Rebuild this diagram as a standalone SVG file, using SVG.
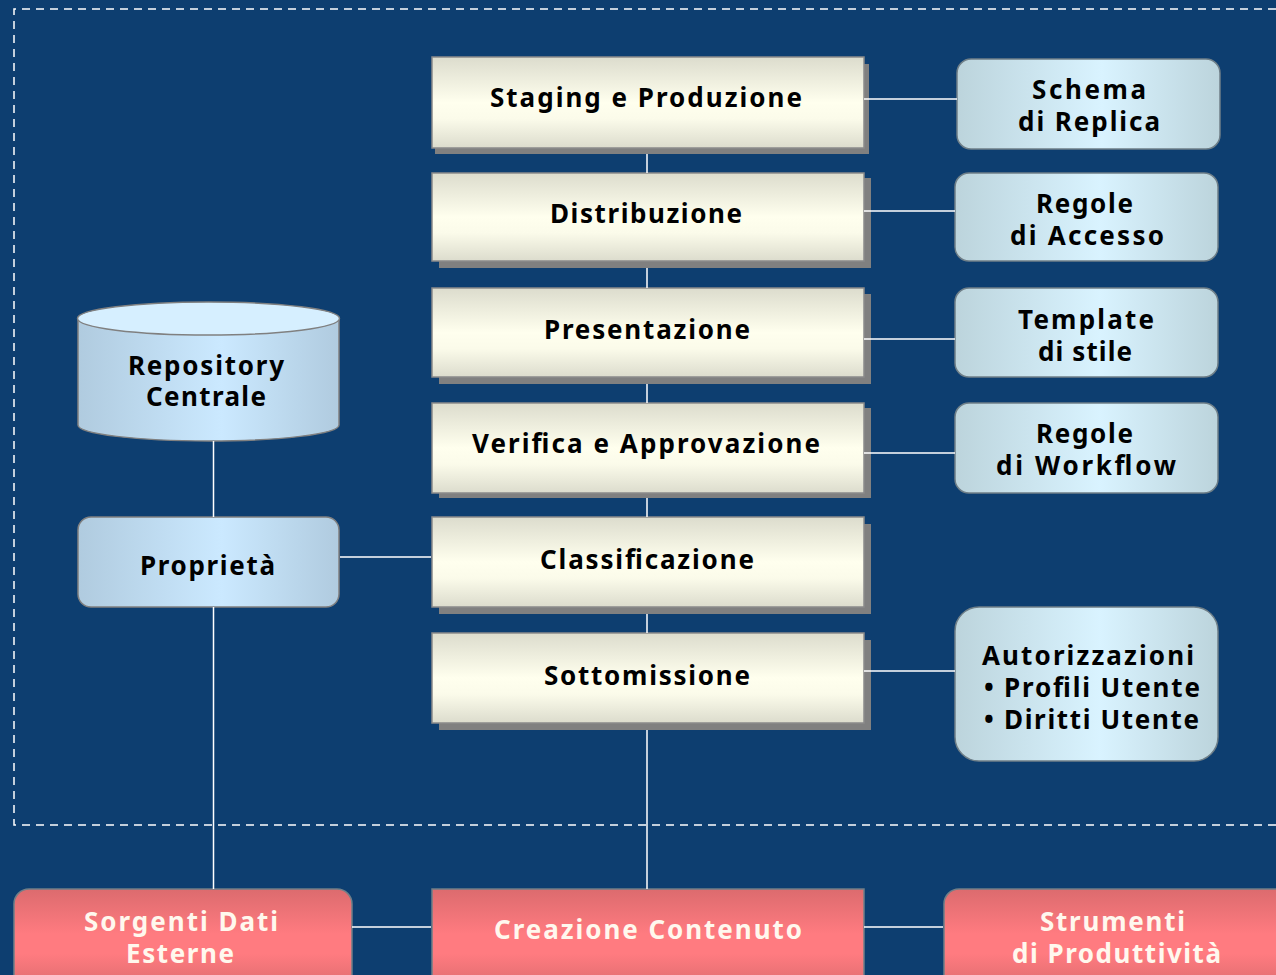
<svg xmlns="http://www.w3.org/2000/svg" width="1276" height="975" viewBox="0 0 1276 975">
<defs>
<linearGradient id="cream" x1="0" y1="0" x2="0" y2="1"><stop offset="0" stop-color="#dcdccd"/><stop offset="0.5" stop-color="#ffffee"/><stop offset="0.68" stop-color="#fbfbea"/><stop offset="1" stop-color="#dcdccd"/></linearGradient>
<linearGradient id="blue" x1="0" y1="0" x2="1" y2="0"><stop offset="0" stop-color="#b0cbdf"/><stop offset="0.55" stop-color="#cbe9ff"/><stop offset="1" stop-color="#b0cbdf"/></linearGradient>
<linearGradient id="ice" x1="0" y1="0" x2="1" y2="0"><stop offset="0" stop-color="#bcd4dc"/><stop offset="0.55" stop-color="#d9f3ff"/><stop offset="1" stop-color="#bcd4dc"/></linearGradient>
<linearGradient id="red" x1="0" y1="0" x2="0" y2="1"><stop offset="0" stop-color="#dc6b6e"/><stop offset="0.45" stop-color="#ff7b80"/><stop offset="0.65" stop-color="#ff7b80"/><stop offset="1" stop-color="#dc6b6e"/></linearGradient>
</defs>
<style>
text{font-family:"Noto Sans","DejaVu Sans",sans-serif;font-weight:700;font-size:26px;fill:#000;}
.w{fill:#fff8ee;}
.s{fill:#808080;}
.c{fill:url(#cream);stroke:#8a8a8a;stroke-width:1.500;}
.b{fill:url(#blue);stroke:#808080;stroke-width:1.500;}
.i{fill:url(#ice);stroke:#6f7f88;stroke-width:1.500;}
.r{fill:url(#red);stroke:#6f7f88;stroke-width:1.500;}
.l{stroke:#fff;stroke-width:1.500;fill:none;}
</style>
<rect width="1276" height="975" fill="#0d3e70"/>
<path d="M1276 9H14V825H1276" fill="none" stroke="#fff" stroke-width="1.500" stroke-dasharray="8 6"/>
<g id="staging"><rect class="s" x="435" y="64" width="434" height="90"/><rect class="c" x="432" y="57" width="432" height="91"/><text x="490" y="107" textLength="312">Staging e Produzione</text></g>
<g id="distribuzione"><rect class="s" x="439" y="178" width="432" height="90"/><rect class="c" x="432" y="173" width="432" height="88"/><text x="550" y="223" textLength="192">Distribuzione</text></g>
<g id="presentazione"><rect class="s" x="439" y="294" width="432" height="90"/><rect class="c" x="432" y="288" width="432" height="89"/><text x="544" y="339" textLength="206">Presentazione</text></g>
<g id="verifica"><rect class="s" x="439" y="408" width="432" height="90"/><rect class="c" x="432" y="403" width="432" height="90"/><text x="472" y="453" textLength="348">Verifica e Approvazione</text></g>
<g id="classificazione"><rect class="s" x="439" y="524" width="432" height="90"/><rect class="c" x="432" y="517" width="432" height="90"/><text x="540" y="569" textLength="214">Classificazione</text></g>
<g id="sottomissione"><rect class="s" x="439" y="640" width="432" height="90"/><rect class="c" x="432" y="633" width="432" height="90"/><text x="544" y="685" textLength="206">Sottomissione</text></g>
<g id="schema"><rect class="i" x="957" y="59" width="263" height="90" rx="14"/><text x="1032" y="99" textLength="114">Schema</text><text x="1018" y="131" textLength="142">di Replica</text></g>
<g id="accesso"><rect class="i" x="955" y="173" width="263" height="88" rx="14"/><text x="1036" y="213" textLength="97">Regole</text><text x="1010" y="245" textLength="154">di Accesso</text></g>
<g id="template"><rect class="i" x="955" y="288" width="263" height="89" rx="14"/><text x="1018" y="329" textLength="136">Template</text><text x="1038" y="361" textLength="94">di stile</text></g>
<g id="workflow"><rect class="i" x="955" y="403" width="263" height="90" rx="14"/><text x="1036" y="443" textLength="97">Regole</text><text x="996" y="475" textLength="180">di Workflow</text></g>
<g id="autorizzazioni"><rect class="i" x="955" y="607" width="263" height="154" rx="24"/><text x="982" y="665" textLength="212">Autorizzazioni</text><text x="984" y="697">•<tspan x="1004" textLength="196">Profili Utente</tspan></text><text x="984" y="729">•<tspan x="1004" textLength="195">Diritti Utente</tspan></text></g>
<g id="repository"><path class="b" d="M78 318V425C78 434 138 441 208.500 441S339 434 339 425V318"/><ellipse cx="208.500" cy="318.500" rx="131" ry="16.500" fill="#d6efff" stroke="#808080" stroke-width="1.500"/><text x="128" y="375" textLength="156">Repository</text><text x="146" y="406" textLength="120">Centrale</text></g>
<g id="proprieta"><rect class="b" x="78" y="517" width="261" height="90" rx="13"/><text x="140" y="575" textLength="135">Proprietà</text></g>
<g id="sorgenti"><rect class="r" x="14" y="889" width="338" height="100" rx="15"/><text class="w" x="84" y="931" textLength="194">Sorgenti Dati</text><text class="w" x="126" y="963" textLength="108">Esterne</text></g>
<g id="creazione"><rect class="r" x="432" y="889" width="432" height="100"/><text class="w" x="494" y="939" textLength="308">Creazione Contenuto</text></g>
<g id="strumenti"><rect class="r" x="944" y="889" width="350" height="100" rx="15"/><text class="w" x="1040" y="931" textLength="145">Strumenti</text><text class="w" x="1012" y="963" textLength="209">di Produttività</text></g>
<g id="connectors">
<path class="l" d="M213.500 441V517M213.500 607V889M647 154V173M647 268V288M647 384V403M647 498V517M647 614V633M647 730V889M864 99H957M864 211H955M864 339H955M864 453H955M340 557H431M864 671H955M352 927H431M864 927H943"/>
</g>
</svg>
